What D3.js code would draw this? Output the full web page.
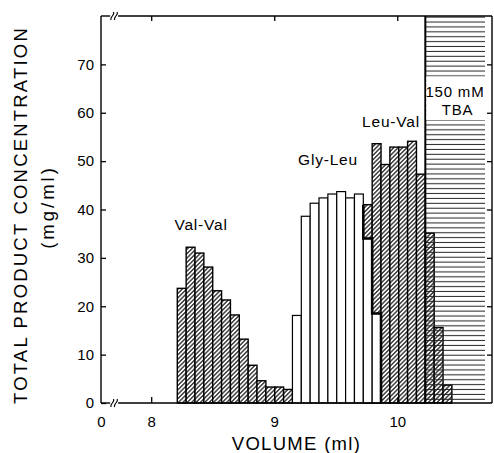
<!DOCTYPE html>
<html>
<head>
<meta charset="utf-8">
<script src="https://cdn.jsdelivr.net/npm/d3@7"></script>
<style>
  html, body { margin: 0; padding: 0; background: #fff; }
  svg { display: block; font-family: "Liberation Sans", Arial, Helvetica, sans-serif; }
</style>
</head>
<body>
<svg id="chart" width="494" height="453"></svg>
<script>
// Fraction boundaries along the elution volume (ml)
const fractionEdges = [
  8.212, 8.284, 8.356, 8.428, 8.500, 8.572, 8.644, 8.716, 8.788, 8.860,
  8.932, 9.004, 9.076, 9.148, 9.220, 9.292, 9.364, 9.436, 9.508, 9.580,
  9.652, 9.724, 9.796, 9.868, 9.940, 10.012, 10.084, 10.156, 10.228, 10.300,
  10.372, 10.444
];

// Product concentration per fraction (mg/ml); each series begins at its first fraction number
const valValFirst = 0;
const valValConc = [23.7, 32.2, 31.0, 28.1, 23.2, 21.3, 18.2, 13.2, 7.8, 4.6, 3.3, 3.3, 2.8];
const glyLeuFirst = 13;
const glyLeuConc = [18.1, 38.6, 41.3, 42.4, 43.2, 43.7, 42.4, 43.2, 34.0, 18.5];
const leuValFirst = 21;
const leuValConc = [41.0, 53.6, 49.3, 52.9, 52.9, 54.1, 47.3, 35.1, 15.6, 3.7];

// Volume at which the 150 mM TBA step starts
const tbaStepVolume = [10.228];

const xTicks = [0, 8, 9, 10];
const xTickLabels = ["0", "8", "9", "10"];
const yTicks = [0, 10, 20, 30, 40, 50, 60, 70];

(function draw() {
  const svg = d3.select("#chart");
  const pL = 101, pR = 492, pT = 16, pB = 403;

  // Broken volume axis: the origin, then the 8–10.8 ml stretch
  const x = d3.scaleLinear().domain([0, 7.7, 10.77]).range([pL, 114.3, pR]);
  const y = d3.scaleLinear().domain([0, 80]).range([pB, pT]);

  const defs = svg.append("defs");
  const diag = defs.append("pattern")
    .attr("id", "diag").attr("patternUnits", "userSpaceOnUse")
    .attr("width", 3.1).attr("height", 3.1)
    .attr("patternTransform", "rotate(45)");
  diag.append("rect").attr("width", 3.1).attr("height", 3.1).attr("fill", "#fff");
  diag.append("line").attr("x1", 1.55).attr("x2", 1.55).attr("y1", 0).attr("y2", 3.1)
    .attr("stroke", "#111").attr("stroke-width", 1.2);

  const horiz = defs.append("pattern")
    .attr("id", "horiz").attr("patternUnits", "userSpaceOnUse")
    .attr("width", 10).attr("height", 4.9);
  horiz.append("line").attr("x1", 0).attr("x2", 10).attr("y1", 2.4).attr("y2", 2.4)
    .attr("stroke", "#222").attr("stroke-width", 1);

  function barsFor(first, conc) {
    return conc.map((c, k) => ({ i: first + k, c }));
  }
  function drawBars(g, cls, data, fill, sw) {
    g.selectAll("rect." + cls).data(data).join("rect")
      .attr("class", cls)
      .attr("x", d => x(fractionEdges[d.i]))
      .attr("width", d => x(fractionEdges[d.i + 1]) - x(fractionEdges[d.i]))
      .attr("y", d => y(d.c))
      .attr("height", d => y(0) - y(d.c))
      .attr("fill", fill).attr("stroke", "#000").attr("stroke-width", sw);
  }

  // Val-Val and Leu-Val (hatched)
  const hatched = svg.append("g");
  drawBars(hatched, "vv", barsFor(valValFirst, valValConc), "url(#diag)", 1.4);
  drawBars(hatched, "lv", barsFor(leuValFirst, leuValConc), "url(#diag)", 1.4);

  // Gly-Leu (open bars) in front
  drawBars(svg.append("g"), "gl", barsFor(glyLeuFirst, glyLeuConc), "#fff", 1.2);

  // Heavy border where Gly-Leu and Leu-Val fractions overlap
  const overlap = barsFor(glyLeuFirst, glyLeuConc).filter(d => d.i >= leuValFirst);
  const stepPts = [[x(fractionEdges[overlap[0].i]), y(leuValConc[overlap[0].i - leuValFirst])]];
  overlap.forEach(d => {
    stepPts.push([x(fractionEdges[d.i]), y(d.c)]);
    stepPts.push([x(fractionEdges[d.i + 1]), y(d.c)]);
  });
  stepPts.push([x(fractionEdges[overlap[overlap.length - 1].i + 1]), y(0)]);
  svg.append("path").attr("d", d3.line()(stepPts))
    .attr("fill", "none").attr("stroke", "#000").attr("stroke-width", 2.6);

  // 150 mM TBA step region
  const tbaX = x(tbaStepVolume[0]);
  svg.append("rect").attr("x", tbaX).attr("y", pT).attr("width", pR - 7 - tbaX)
    .attr("height", pB - pT).attr("fill", "url(#horiz)");
  svg.append("line").attr("x1", tbaX).attr("x2", tbaX).attr("y1", pT).attr("y2", pB)
    .attr("stroke", "#000").attr("stroke-width", 2);
  svg.append("rect").attr("x", tbaX + 1).attr("y", y(67.5)).attr("width", pR - tbaX - 2)
    .attr("height", y(58.5) - y(67.5)).attr("fill", "#fff");

  // Axes (ticks inward)
  const gLeft = svg.append("g").attr("transform", `translate(${pL},0)`)
    .call(d3.axisLeft(y).tickValues(yTicks).tickSize(-5).tickPadding(7).tickFormat(d3.format("d")));
  const gRight = svg.append("g").attr("transform", `translate(${pR},0)`)
    .call(d3.axisRight(y).tickValues(yTicks.slice(1)).tickSize(-5).tickFormat(""));
  const gBottom = svg.append("g").attr("transform", `translate(0,${pB})`)
    .call(d3.axisBottom(x).tickValues(xTicks).tickSize(-6).tickPadding(13)
      .tickFormat((d, k) => xTickLabels[k]));
  const gTop = svg.append("g").attr("transform", `translate(0,${pT})`)
    .call(d3.axisTop(x).tickValues(xTicks.slice(1)).tickSize(-5).tickFormat(""));

  [gLeft, gRight, gBottom, gTop].forEach(g => {
    g.select(".domain").remove();
    g.selectAll(".tick line").attr("stroke", "#000").attr("stroke-width", 1.3);
    g.selectAll(".tick text").attr("fill", "#000").attr("font-size", 15)
      .attr("font-family", "Liberation Sans, Arial, sans-serif");
  });
  gBottom.selectAll(".tick").filter(d => d === 0).select("line").remove();

  // Frame with breaks on the volume axis
  const frame = svg.append("g").attr("stroke", "#000").attr("stroke-width", 1.4).attr("fill", "none");
  const brk = x(7.6);
  frame.append("line").attr("x1", pL).attr("x2", pL).attr("y1", pT).attr("y2", pB);
  frame.append("line").attr("x1", pR).attr("x2", pR).attr("y1", pT).attr("y2", pB);
  [pT, pB].forEach(yy => {
    frame.append("line").attr("x1", pL).attr("x2", brk - 4).attr("y1", yy).attr("y2", yy);
    frame.append("line").attr("x1", brk + 4).attr("x2", pR).attr("y1", yy).attr("y2", yy);
    [-1.8, 1.8].forEach(dx => {
      const cx = brk + dx;
      frame.append("path").attr("stroke-width", 1.1)
        .attr("d", `M${cx - 1.2},${yy + 4} C${cx - 3},${yy + 1} ${cx + 3},${yy - 1} ${cx + 1.2},${yy - 4}`);
    });
  });

  // Titles
  svg.append("text")
    .attr("transform", "translate(20,215) rotate(-90)")
    .attr("text-anchor", "middle").attr("dy", "0.36em")
    .attr("font-size", 18.5).attr("letter-spacing", 2.2)
    .text("TOTAL PRODUCT CONCENTRATION");
  svg.append("text")
    .attr("transform", "translate(47,207) rotate(-90)")
    .attr("text-anchor", "middle").attr("dy", "0.36em")
    .attr("font-size", 18.5).attr("letter-spacing", 3)
    .text("(mg/ml)");
  svg.append("text")
    .attr("x", (pL + pR) / 2).attr("y", 450)
    .attr("text-anchor", "middle")
    .attr("font-size", 18.5).attr("letter-spacing", 1.3)
    .text("VOLUME (ml)");

  // Peak labels
  const labels = svg.append("g").attr("font-size", 15.5).attr("letter-spacing", 0.8).attr("text-anchor", "middle");
  labels.append("text").attr("x", x(8.405)).attr("y", y(35.8)).text("Val-Val");
  labels.append("text").attr("x", x(9.437)).attr("y", y(49.2)).text("Gly-Leu");
  labels.append("text").attr("x", x(9.949)).attr("y", y(57.0)).text("Leu-Val");
  labels.append("text").attr("x", x(10.469)).attr("y", y(63.3)).attr("font-size", 15).text("150 mM");
  labels.append("text").attr("x", x(10.49)).attr("y", y(59.6)).attr("font-size", 15).text("TBA");
})();
</script>
</body>
</html>
